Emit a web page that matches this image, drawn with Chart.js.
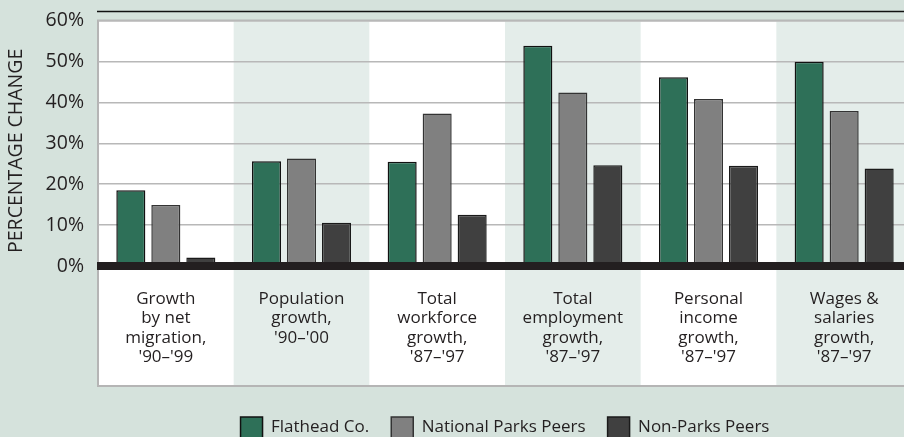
<!DOCTYPE html>
<html>
<head>
<meta charset="utf-8">
<script src="https://cdn.jsdelivr.net/npm/chart.js@4.4.1/dist/chart.umd.min.js"></script>
<style>
  html, body { margin: 0; padding: 0; background: #d5e2dc; overflow: hidden; }
  #wrap { width: 904px; height: 437px; overflow: hidden; }
  #myChart { display: block; }
</style>
</head>
<body>
<div id="wrap"><canvas id="myChart" width="912" height="448"></canvas></div>
<script>
const categories = [
    ["Growth", "by net", "migration,", "'90–'99"],
    ["Population", "growth,", "'90–'00"],
    ["Total", "workforce", "growth,", "'87–'97"],
    ["Total", "employment", "growth,", "'87–'97"],
    ["Personal", "income", "growth,", "'87–'97"],
    ["Wages &", "salaries", "growth,", "'87–'97"]
];
const seriesNames = ["Flathead Co.", "National Parks Peers", "Non-Parks Peers"];
const flathead = [18.5, 25.6, 25.5, 53.8, 46.1, 49.9];
const nationalParks = [14.9, 26.3, 37.3, 42.4, 40.8, 37.9];
const nonParks = [2.1, 10.6, 12.5, 24.6, 24.5, 23.8];
const yMin = 0, yMax = 60, yStep = 10;

const ink = '#231f20';
const font = 'Open Sans';

// white plot panel, alternating column bands and the frame
const backdrop = {
    id: 'backdrop',
    beforeDraw(chart) {
        const { ctx, chartArea: a, scales: { x } } = chart;
        const bottom = a.bottom + 120;
        const right = chart.width;
        const w = (a.right - a.left) / categories.length;
        ctx.save();
        ctx.fillStyle = '#ffffff';
        ctx.fillRect(a.left, a.top, right - a.left, bottom - a.top);
        ctx.fillStyle = '#e4edea';
        categories.forEach((c, i) => {
            if (i % 2 === 1) ctx.fillRect(x.getPixelForValue(i) - w / 2, a.top + 1, w, bottom - a.top - 1);
        });
        ctx.strokeStyle = '#b5b5b5';
        ctx.lineWidth = 2;
        ctx.beginPath();
        ctx.moveTo(right, a.top);
        ctx.lineTo(a.left, a.top);
        ctx.lineTo(a.left, bottom);
        ctx.lineTo(right, bottom);
        ctx.stroke();
        // thin black rule above the panel
        ctx.strokeStyle = '#111';
        ctx.lineWidth = 1.5;
        ctx.beginPath();
        ctx.moveTo(a.left - 1, a.top - 9);
        ctx.lineTo(right, a.top - 9);
        ctx.stroke();
        ctx.restore();
    },
    afterDatasetsDraw(chart) {
        const { ctx, chartArea: a, scales: { y } } = chart;
        const y0 = y.getPixelForValue(0);
        ctx.save();
        ctx.fillStyle = ink;
        ctx.fillRect(a.left - 1, y0 - 4, chart.width - a.left + 1, 8);
        ctx.restore();
    }
};

const bar = (label, data, bg, border) => ({
    label, data,
    backgroundColor: bg,
    borderColor: border,
    borderWidth: 1.5,
    categoryPercentage: 0.774,
    barPercentage: 0.83
});

new Chart(document.getElementById('myChart'), {
    type: 'bar',
    data: {
        labels: categories,
        datasets: [
            bar(seriesNames[0], flathead, '#2e7058', '#111'),
            bar(seriesNames[1], nationalParks, '#808080', '#333'),
            bar(seriesNames[2], nonParks, '#404040', '#1a1a1a')
        ]
    },
    options: {
        responsive: false,
        animation: false,
        layout: { padding: { top: 20.5, left: 0, right: 0, bottom: 0 } },
        plugins: {
            tooltip: { enabled: false },
            legend: {
                position: 'bottom',
                fullSize: false,
                labels: {
                    color: ink,
                    font: { family: font, size: 17 },
                    boxWidth: 22,
                    boxHeight: 21,
                    padding: 22
                }
            }
        },
        scales: {
            x: {
                grid: { display: false },
                border: { display: false },
                ticks: {
                    color: ink,
                    font: { family: font, size: 17, lineHeight: 1.15 },
                    padding: 15,
                    maxRotation: 0,
                    autoSkip: false
                },
                afterFit(scale) { scale.height = 129; }
            },
            y: {
                min: yMin,
                max: yMax,
                grid: { color: '#b8b8b8', lineWidth: 1.5, drawTicks: false },
                border: { display: false },
                ticks: {
                    stepSize: yStep,
                    color: ink,
                    font: { family: font, size: 19.5 },
                    padding: 14,
                    callback: v => v + '%'
                },
                title: {
                    display: true,
                    text: 'PERCENTAGE CHANGE   ',
                    color: ink,
                    font: { family: font, size: 19.5 },
                    padding: { top: 5, bottom: 0 }
                },
                afterFit(scale) {
                    scale.width = 98;
                    scale.paddingTop = 0;
                    scale.paddingBottom = 0;
                }
            }
        }
    },
    plugins: [backdrop]
});
</script>
</body>
</html>
